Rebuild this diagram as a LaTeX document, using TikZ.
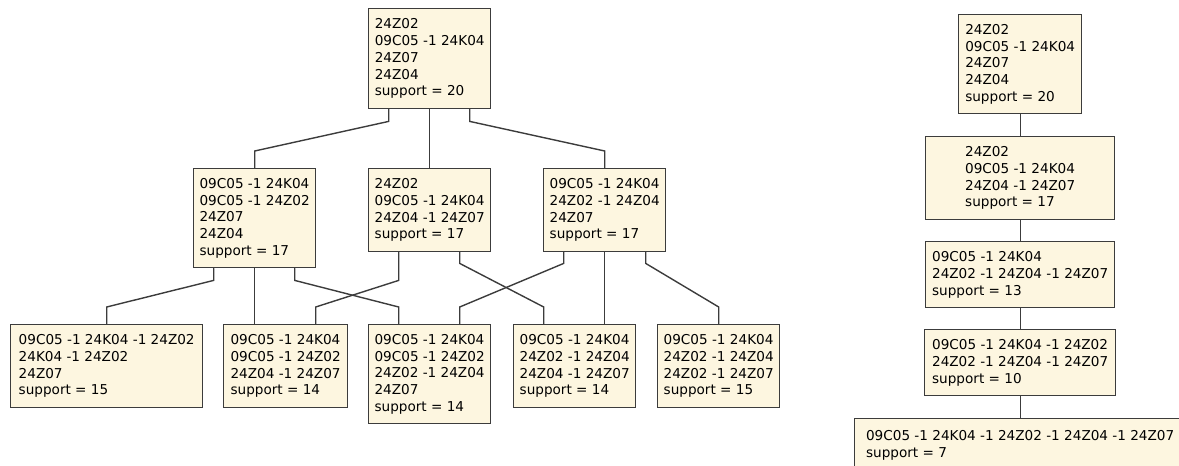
\documentclass[tikz,border=0pt]{standalone}
\usepackage{fontspec}
\setmainfont{DejaVu Sans}
\usepackage{tikz}
\usepackage{xcolor}
\definecolor{boxfill}{RGB}{253,246,224}
\definecolor{boxline}{RGB}{60,60,60}

\begin{document}
\begin{tikzpicture}[x=1pt,y=-1pt,font=\fontsize{13.6}{16.7}\selectfont,line cap=round,
  lattice/.style={draw=boxline,fill=boxfill,line width=1.4pt,align=left,anchor=north west,inner xsep=1.5pt,inner ysep=0pt},
  link/.style={draw=boxline,line width=1.4pt}]
\clip (0,0) rectangle (1179,466);
% left lattice
\node[lattice,minimum width=122pt,minimum height=100pt] (top) at (368,8) {24Z02\\09C05 -1 24K04\\24Z07\\24Z04\\support = 20};
\node[lattice,minimum width=122pt,minimum height=99pt] (ml) at (193,168) {09C05 -1 24K04\\09C05 -1 24Z02\\24Z07\\24Z04\\support = 17};
\node[lattice,minimum width=122pt,minimum height=83pt] (mm) at (368,168) {24Z02\\09C05 -1 24K04\\24Z04 -1 24Z07\\support = 17};
\node[lattice,minimum width=122pt,minimum height=83pt] (mr) at (543,168) {09C05 -1 24K04\\24Z02 -1 24Z04\\24Z07\\support = 17};
\node[lattice,minimum width=192pt,minimum height=83pt] (b1) at (10,324) {09C05 -1 24K04 -1 24Z02\\24K04 -1 24Z02\\24Z07\\support = 15};
\node[lattice,minimum width=124pt,minimum height=83pt] (b2) at (223,324) {09C05 -1 24K04\\09C05 -1 24Z02\\24Z04 -1 24Z07\\support = 14};
\node[lattice,minimum width=122pt,minimum height=99pt] (b3) at (368,324) {09C05 -1 24K04\\09C05 -1 24Z02\\24Z02 -1 24Z04\\24Z07\\support = 14};
\node[lattice,minimum width=122pt,minimum height=83pt] (b4) at (513,324) {09C05 -1 24K04\\24Z02 -1 24Z04\\24Z04 -1 24Z07\\support = 14};
\node[lattice,minimum width=122pt,minimum height=83pt] (b5) at (657,324) {09C05 -1 24K04\\24Z02 -1 24Z04\\24Z02 -1 24Z07\\support = 15};
\draw[link] ([xshift=-41pt]top.south) -- ++(0,12) -- ([yshift=17pt]ml.north) -- (ml.north);
\draw[link] (top.south) -- (mm.north);
\draw[link] ([xshift=40pt]top.south) -- ++(0,12) -- ([yshift=17pt]mr.north) -- (mr.north);
\draw[link] ([xshift=-41pt]ml.south) -- ++(0,12) -- ([yshift=17pt]b1.north) -- (b1.north);
\draw[link] (ml.south) -- ([xshift=-31pt]b2.north);
\draw[link] ([xshift=40pt]ml.south) -- ++(0,12) -- ([xshift=-31pt,yshift=17pt]b3.north) -- ([xshift=-31pt]b3.north);
\draw[link] ([xshift=-31pt]mm.south) -- ++(0,28) -- ([xshift=30pt,yshift=17pt]b2.north) -- ([xshift=30pt]b2.north);
\draw[link] ([xshift=30pt]mm.south) -- ++(0,11) -- ([xshift=-31pt,yshift=17pt]b4.north) -- ([xshift=-31pt]b4.north);
\draw[link] ([xshift=-41pt]mr.south) -- ++(0,11) -- ([xshift=30pt,yshift=17pt]b3.north) -- ([xshift=30pt]b3.north);
\draw[link] (mr.south) -- ([xshift=30pt]b4.north);
\draw[link] ([xshift=41pt]mr.south) -- ++(0,11) -- ([yshift=17pt]b5.north) -- (b5.north);
% right chain
\node[lattice,minimum width=123pt,minimum height=99pt] (c1) at (958,14) {24Z02\\09C05 -1 24K04\\24Z07\\24Z04\\support = 20};
\node[lattice,minimum width=189pt,minimum height=83pt] (c2) at (925,136) {24Z02\\09C05 -1 24K04\\24Z04 -1 24Z07\\support = 17};
\node[lattice,minimum width=189pt,minimum height=66pt] (c3) at (925,241) {09C05 -1 24K04\\24Z02 -1 24Z04 -1 24Z07\\support = 13};
\node[lattice,minimum width=191pt,minimum height=66pt] (c4) at (924,329) {09C05 -1 24K04 -1 24Z02\\24Z02 -1 24Z04 -1 24Z07\\support = 10};
\node[lattice,minimum width=331pt,minimum height=54pt] (c5) at (854,418) {09C05 -1 24K04 -1 24Z02 -1 24Z04 -1 24Z07\\support = 7};
\draw[link] (c1.south) -- (c2.north);
\draw[link] (c2.south) -- (c3.north);
\draw[link] (c3.south) -- (c4.north);
\draw[link] (c4.south) -- (c5.north);
\end{tikzpicture}
\end{document}
